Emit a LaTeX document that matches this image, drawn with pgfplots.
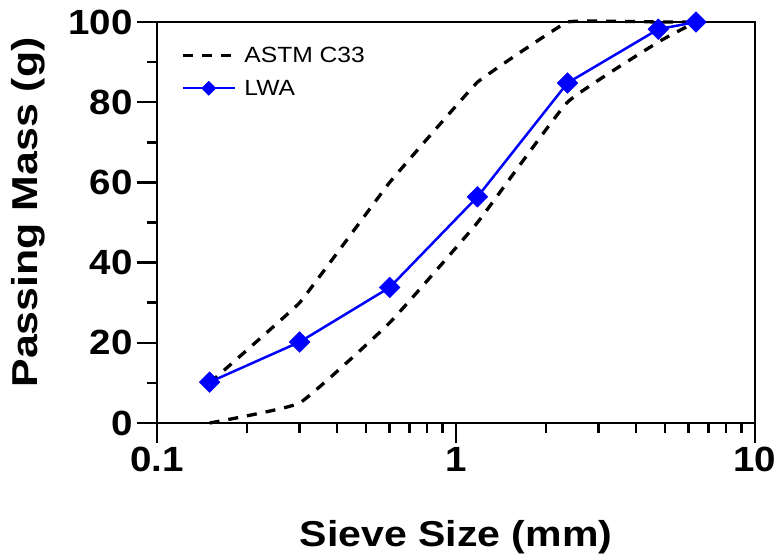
\documentclass[border=0pt]{standalone}
\usepackage{fontspec}
\setmainfont{Liberation Sans}
\newfontfamily\fA{Liberation Sans}[FakeStretch=1.1]
\newfontfamily\fX{Liberation Sans}[FakeStretch=1.14]
\newfontfamily\fY{Liberation Sans}[FakeStretch=1.19]
\newfontfamily\fL{Liberation Sans}[FakeStretch=1.12]
\usepackage{pgfplots}
\pgfplotsset{compat=1.18}
\begin{document}
\begin{tikzpicture}
\begin{axis}[
  at={(0pt,0pt)}, anchor=south west,
  scale only axis, width=598pt, height=401pt,
  xmode=log, xmin=0.1, xmax=10, ymin=0, ymax=100,
  xtick={0.1,1,10}, xticklabels={0.1,1,10},
  minor xtick={0.2,0.3,0.4,0.5,0.6,0.7,0.8,0.9,2,3,4,5,6,7,8,9},
  ytick={0,20,40,60,80,100}, yticklabels={0,20,40,60,80,100},
  minor ytick={10,30,50,70,90},
  tick align=outside, tick pos=left,
  major tick length=20pt, minor tick length=10pt,
  every tick/.style={black, line width=2.5pt},
  axis line style={line width=2.5pt},
  ticklabel style={font=\fA\bfseries\fontsize{35}{40}\selectfont, inner sep=0pt},
  xticklabel style={anchor=north, yshift=-4pt},
  yticklabel style={anchor=east, xshift=-4pt},
  xlabel={Sieve Size (mm)},
  ylabel={Passing Mass (g)},
  xlabel style={font=\fX\bfseries\fontsize{36}{40}\selectfont, at={(axis description cs:0.5,-0.307)}, anchor=base, inner sep=0pt},
  ylabel style={font=\fY\bfseries\fontsize{36}{40}\selectfont, at={(axis description cs:-0.199,0.525)}, anchor=base, rotate=0, inner sep=0pt},
  clip=false,
  legend style={draw=none, fill=none, at={(axis description cs:0.035,0.948)}, anchor=north west,
    font=\fL\fontsize{22}{26}\selectfont, row sep=12pt, nodes={inner sep=2pt},
    /tikz/every odd column/.style={column sep=6pt}},
  legend cell align=left,
  legend image code/.code={\draw[mark repeat=2,mark phase=2,#1,mark size=5pt] plot coordinates {(0pt,0pt) (26pt,0pt) (52pt,0pt)};},
]
\addplot[black, line width=3.3pt, dash pattern=on 10pt off 9pt, smooth, tension=0.12] coordinates {
(0.15,10) (0.3,30) (0.6,60) (1.18,85) (2.36,100) (4.75,100) (6.35,100)};
\addlegendentry{ASTM C33}
\addplot[black, line width=3.3pt, dash pattern=on 10pt off 9pt, smooth, tension=0.2, forget plot] coordinates {
(0.15,0) (0.3,5) (0.6,25) (1.18,50) (2.36,80) (4.75,95) (6.35,100)};
\addplot[blue, line width=2.5pt, mark=square*, mark size=7.3pt, mark options={rotate=45, solid, fill=blue, draw=blue, line width=0.5pt}] coordinates {
(0.15,10.2) (0.3,20.2) (0.6,33.8) (1.18,56.4) (2.36,84.8) (4.75,98.2) (6.35,100)};
\addlegendentry{LWA}
\end{axis}
\path (-157pt,-136pt) rectangle (620pt,423pt);
\end{tikzpicture}
\end{document}
